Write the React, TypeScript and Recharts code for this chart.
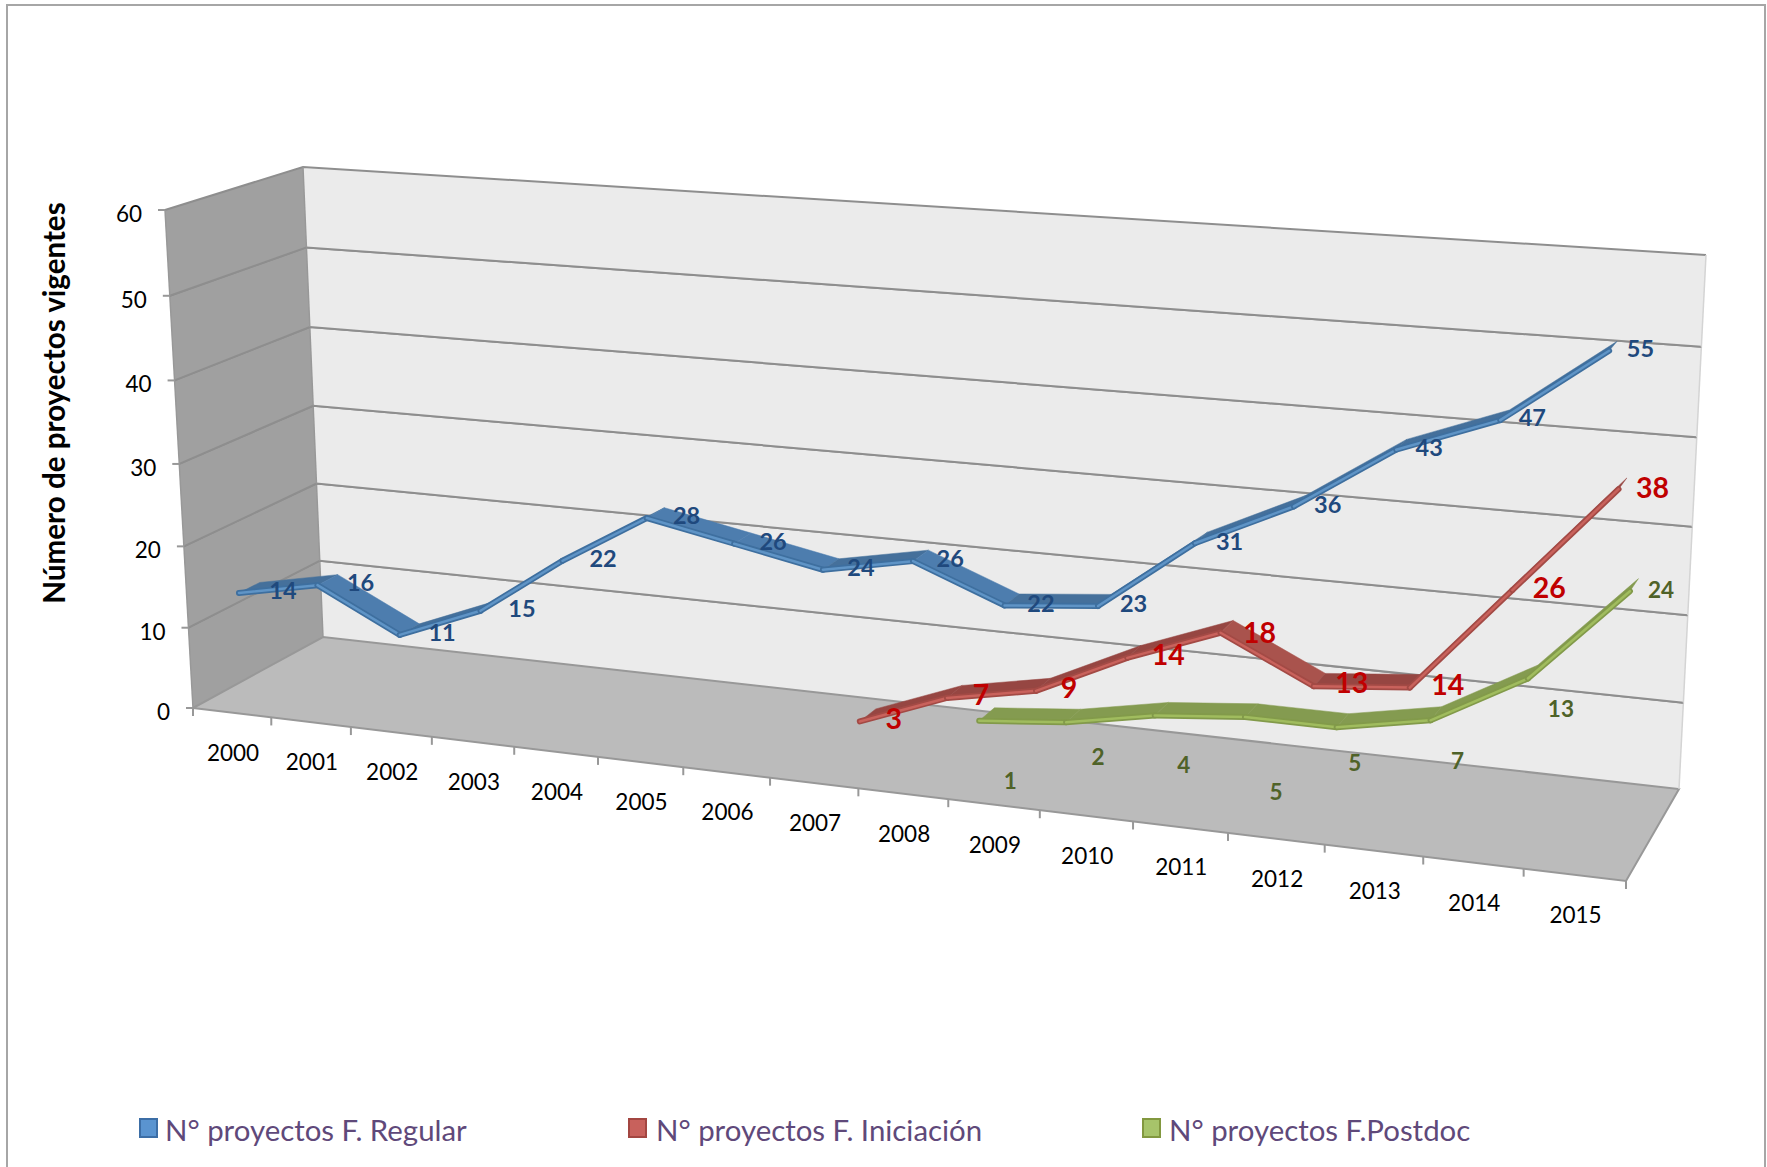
import React from 'react';
import { LineChart, Line, XAxis, YAxis, ReferenceArea, Legend } from 'recharts';

const years = ['2000','2001','2002','2003','2004','2005','2006','2007','2008','2009','2010','2011','2012','2013','2014','2015'];
const regular = [14,16,11,15,22,28,26,24,26,22,23,31,36,43,47,55];
const iniciacion = [null,null,null,null,null,null,null,3,7,9,14,18,13,14,26,38];
const postdoc = [null,null,null,null,null,null,null,null,1,2,4,5,5,7,13,24];
const valueTicks = [0,10,20,30,40,50,60];
const data = years.map((y,i)=>({year:y,regular:regular[i],iniciacion:iniciacion[i],postdoc:postdoc[i]}));

const W=1767,H=1167;
const PL=100,PT=100,PW=1567,PH=967;
type P=[number,number];
const FRONT:P[]=[[193,708],[1626,881],[1661,311],[165,210]];
const BACK:P[]=[[323,637],[1679,789],[1706,255],[303,167]];
function project(u:number,v:number,z:number):P{
  const q=FRONT.map((p,i)=>[p[0]+(BACK[i][0]-p[0])*z,p[1]+(BACK[i][1]-p[1])*z]);
  const [x0,y0]=q[0],[x1,y1]=q[1],[x2,y2]=q[2],[x3,y3]=q[3];
  const dx1=x1-x2,dx2=x3-x2,sx=x0-x1+x2-x3,dy1=y1-y2,dy2=y3-y2,sy=y0-y1+y2-y3;
  const den=dx1*dy2-dx2*dy1;
  const g=(sx*dy2-dx2*sy)/den,h=(dx1*sy-sx*dy1)/den;
  const a=x1-x0+g*x1,b=x3-x0+h*x3,d=y1-y0+g*y1,e=y3-y0+h*y3;
  const w=g*u+h*v+1;
  return [(a*u+b*v+x0)/w,(d*u+e*v+y0)/w];
}
const pu=(x:number)=>(x-PL)/PW;
const pv=(y:number)=>(PT+PH-y)/PH;
const pts=(a:P[])=>a.map(p=>p.join(',')).join(' ');

const WALL_LEFT='#a0a0a0',WALL_BACK='#ebebeb',FLOOR='#bbbbbb',EDGE='#989898',GRID='#8e8e8e';

const band=(props:any)=>{
  const {y,height}=props;
  const v1=pv(y),v0=pv(y+height);
  const isBottom=v0<0.001;
  const bl=project(0,v0,1),tl=project(0,v1,1),br=project(1,v0,1),tr=project(1,v1,1);
  const fl0=project(0,v0,0),fl1=project(0,v1,0);
  return (
    <g>
      <polygon points={pts([fl0,bl,tl,fl1])} fill={WALL_LEFT}/>
      <polygon points={pts([bl,br,tr,tl])} fill={WALL_BACK}/>
      {isBottom&&<polygon points={pts([fl0,project(1,0,0),br,bl])} fill={FLOOR} stroke={EDGE} strokeWidth={2}/>}
      {!isBottom&&<polyline points={pts([fl0,bl,br])} fill="none" stroke={GRID} strokeWidth={2}/>}
      <polyline points={pts([fl1,tl,tr])} fill="none" stroke={GRID} strokeWidth={2}/>
      <line x1={bl[0]} y1={bl[1]} x2={tl[0]} y2={tl[1]} stroke={EDGE} strokeWidth={1.5}/>
      <line x1={fl0[0]} y1={fl0[1]} x2={fl1[0]} y2={fl1[1]} stroke={EDGE} strokeWidth={1.5}/>
      <line x1={br[0]} y1={br[1]} x2={tr[0]} y2={tr[1]} stroke="#d4d4d4" strokeWidth={1.5}/>
    </g>
  );
};

const xTick=(props:any)=>{
  const {x,payload,index}=props;
  const half=PW/years.length/2;
  const l=project(pu(x-half),0,0),r=project(pu(x+half),0,0),c=project(pu(x),0,0);
  return (
    <g key={`xt${index}`}>
      <line x1={l[0]} y1={l[1]} x2={l[0]} y2={l[1]+8} stroke={EDGE} strokeWidth={2}/>
      {index===years.length-1&&<line x1={r[0]} y1={r[1]} x2={r[0]} y2={r[1]+8} stroke={EDGE} strokeWidth={2}/>}
      <text x={c[0]+1} y={c[1]+48} textAnchor="middle" fontFamily="Lato" fontSize={22.5} fill="#000">{payload.value}</text>
    </g>
  );
};
const yTick=(props:any)=>{
  const {y,payload,index}=props;
  const p=project(0,pv(y),0);
  return (
    <g key={`yt${index}`}>
      <line x1={p[0]-7} y1={p[1]} x2={p[0]} y2={p[1]} stroke={EDGE} strokeWidth={2}/>
      <text x={p[0]-23} y={p[1]+12} textAnchor="end" fontFamily="Lato" fontSize={22.5} fill="#000">{payload.value}</text>
    </g>
  );
};

type Style={z0:number;z1:number;fillDown:string;fillFlat:string;edge:string;light:string;text:string;fs:number;off:P[]};
const blueOffsets:P[]=years.map((_,i)=>[44-i*0.85,-2]);
const redOffsets:P[]=[[34,-2],[34,-3],[33,-3],[41,-3],[39,0],[38,-3],[38,-3],[37,-2],[34,-1]];
const greenOffsets:P[]=[[31,60],[32,35],[29,50],[31,75],[18,36],[27,41],[33,31],[31,-1]];

const seen:Record<string,Record<number,[number,number]>>={};
const ribbon=(name:string,s:Style)=>(props:any)=>{
  const {cx,cy,index}=props;
  if(cx==null||cy==null||props.value==null||(Array.isArray(props.value)&&props.value[1]==null)) return <g key={`r${index}`}/>;
  const store=seen[name]||(seen[name]={});
  store[index]=[cx,cy];
  const prev=store[index-1];
  if(!prev) return <g key={`r${index}`}/>;
  const a0=project(pu(prev[0]),pv(prev[1]),s.z0),a1=project(pu(prev[0]),pv(prev[1]),s.z1);
  const b0=project(pu(cx),pv(cy),s.z0),b1=project(pu(cx),pv(cy),s.z1);
  const slope=(b0[1]-a0[1])/(b0[0]-a0[0]);
  const fill=slope>0.12?s.fillDown:s.fillFlat;
  return (
    <g key={`r${index}`}>
      <polygon points={pts([a0,b0,b1,a1])} fill={fill} stroke={fill} strokeWidth={0.5}/>
      <line x1={a0[0]} y1={a0[1]} x2={b0[0]} y2={b0[1]} stroke={s.edge} strokeWidth={6} strokeLinecap="round"/>
      <line x1={a0[0]} y1={a0[1]} x2={b0[0]} y2={b0[1]} stroke={s.light} strokeWidth={2.5} strokeLinecap="round"/>
    </g>
  );
};
const valueLabel=(s:Style,first:number)=>(props:any)=>{
  const {x,y,value,index}=props;
  if(value==null||x==null||y==null) return <g key={`l${index}`}/>;
  const p=project(pu(x),pv(y),s.z0);
  const o=s.off[index-first]||[0,0];
  return <text key={`l${index}`} x={p[0]+o[0]} y={p[1]+o[1]} dy="0.35em" textAnchor="middle" fontFamily="Lato" fontWeight={700} fontSize={s.fs} fill={s.text}>{value}</text>;
};

const blue:Style={z0:0.10,z1:0.26,fillDown:'#4d7dae',fillFlat:'#45709b',edge:'#3e6f9f',light:'#5f94c6',text:'#1f497d',fs:23.5,off:blueOffsets};
const red:Style={z0:0.46,z1:0.62,fillDown:'#a9534d',fillFlat:'#964642',edge:'#a34a45',light:'#c9625c',text:'#c00000',fs:28.5,off:redOffsets};
const green:Style={z0:0.80,z1:0.96,fillDown:'#849b50',fillFlat:'#849b50',edge:'#829a4a',light:'#a0bc5e',text:'#4f6228',fs:22.5,off:greenOffsets};

const legendPos=[{sx:139,tx:165,fill:'#5a94d0',border:'#3c6ea6'},{sx:628,tx:656,fill:'#c8615c',border:'#a34641'},{sx:1142,tx:1169,fill:'#a7c46a',border:'#82983f'}];
const legendContent=(props:any)=>{
  const items=props.payload||[];
  return (
    <div style={{position:'relative',width:W,height:0}}>
      {items.map((it:any,i:number)=>(
        <React.Fragment key={it.value}>
          <div style={{position:'absolute',left:legendPos[i].sx,top:1118,width:15,height:16,background:legendPos[i].fill,border:`2px solid ${legendPos[i].border}`}}/>
          <div style={{position:'absolute',left:legendPos[i].tx,top:1113,fontFamily:'Lato',fontSize:29.4,lineHeight:'34px',color:'#5f497a',whiteSpace:'nowrap'}}>{it.value}</div>
        </React.Fragment>
      ))}
    </div>
  );
};

export default function App(){
  return (
    <div style={{position:'absolute',left:0,top:0,width:W,height:H,background:'#fff',overflow:'hidden'}}>
      <div style={{position:'absolute',left:6,top:4,right:1,bottom:-10,border:'2px solid #a6a6a6'}}/>
      <div style={{position:'absolute',left:53,top:403,transform:'translate(-50%,-50%) rotate(-90deg)',fontFamily:'Lato',fontWeight:700,fontSize:29.6,color:'#000',whiteSpace:'nowrap'}}>Número de proyectos vigentes</div>
      <LineChart width={W} height={H} data={data} margin={{top:PT,left:40,right:W-PL-PW,bottom:60}} style={{position:'absolute',left:0,top:0}}>
        {valueTicks.slice(0,-1).map((v,i)=>(
          <ReferenceArea key={v} y1={v} y2={valueTicks[i+1]} shape={band} ifOverflow="visible"/>
        ))}
        <XAxis dataKey="year" scale="band" height={40} interval={0} axisLine={false} tickLine={false} tick={xTick}/>
        <YAxis type="number" domain={[0,60]} ticks={valueTicks} width={60} axisLine={false} tickLine={false} tick={yTick}/>
        <Legend layout="horizontal" verticalAlign="middle" align="center" itemSorter={null} content={legendContent} wrapperStyle={{left:0,top:0,width:W,height:0}}/>
        <Line name="N° proyectos F. Regular" dataKey="regular" stroke="none" isAnimationActive={false} activeDot={false} dot={ribbon('regular',blue)} label={valueLabel(blue,0)}/>
        <Line name="N° proyectos F. Iniciación" dataKey="iniciacion" stroke="none" isAnimationActive={false} activeDot={false} dot={ribbon('iniciacion',red)} label={valueLabel(red,7)}/>
        <Line name="N° proyectos F.Postdoc" dataKey="postdoc" stroke="none" isAnimationActive={false} activeDot={false} dot={ribbon('postdoc',green)} label={valueLabel(green,8)}/>
      </LineChart>
    </div>
  );
}
